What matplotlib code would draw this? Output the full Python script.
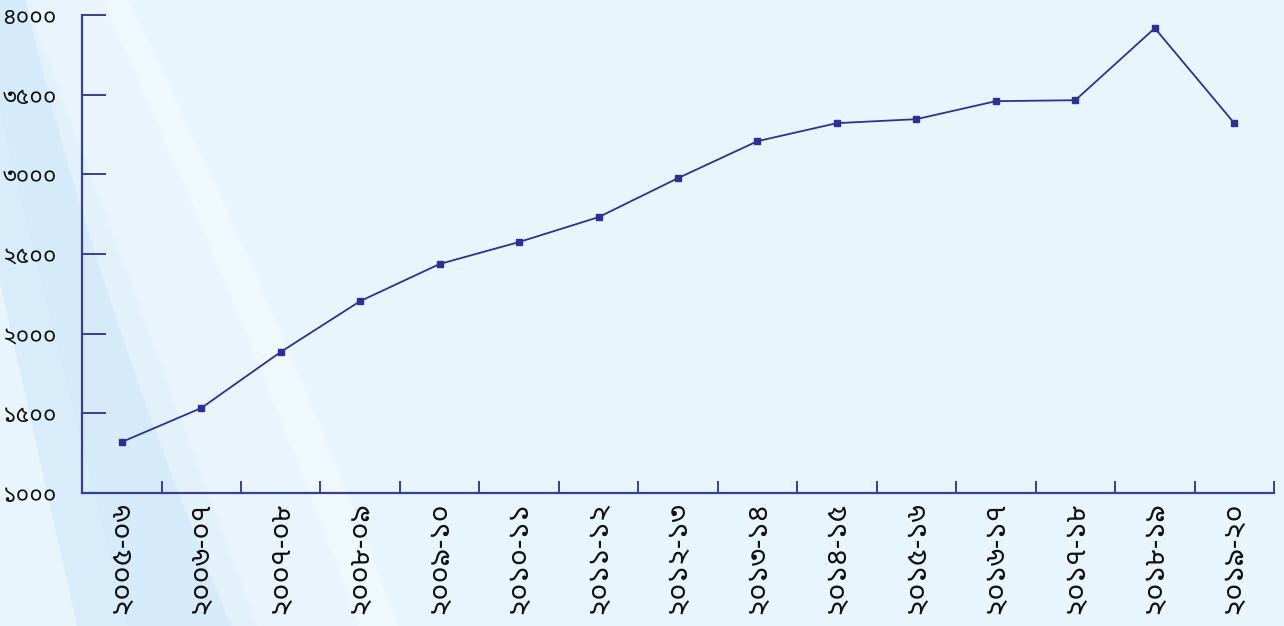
import matplotlib
matplotlib.use('Agg')
import matplotlib.pyplot as plt
from matplotlib.path import Path
from matplotlib.patches import PathPatch
from matplotlib.ticker import FixedLocator

plt.rcParams['font.family'] = ['Noto Sans Bengali', 'DejaVu Sans']

# ── Data ──────────────────────────────────────────────────────────────
years = ['২০০৫-০৬', '২০০৬-০৭', '২০০৭-০৮', '২০০৮-০৯', '২০০৯-১০',
         '২০১০-১১', '২০১১-১২', '২০১২-১৩', '২০১৩-১৪', '২০১৪-১৫',
         '২০১৫-১৬', '২০১৬-১৭', '২০১৭-১৮', '২০১৮-১৯', '২০১৯-২০']
values = [1320, 1533, 1885, 2204, 2437, 2575, 2731, 2976, 3208, 3321,
          3346, 3459, 3465, 3917, 3321]
y_ticks = [1000, 1500, 2000, 2500, 3000, 3500, 4000]
y_labels = ['১০০০', '১৫০০', '২০০০', '২৫০০', '৩০০০', '৩৫০০', '৪০০০']

NAVY = '#2E3192'
BG = '#E9F5FD'

fig = plt.figure(figsize=(12.84, 6.26), dpi=100, facecolor=BG)

# soft light swooshes on the left side (figure coords)
def band(x0, x1, x2, x3, color, alpha):
    verts = [(x0, 1.0), (x0 + 0.05, 0.55), (x1, 0.0),
             (x2, 0.0), (x2 - 0.08, 0.45), (x3, 1.0), (x0, 1.0)]
    codes = [Path.MOVETO, Path.CURVE3, Path.CURVE3,
             Path.LINETO, Path.CURVE3, Path.CURVE3, Path.CLOSEPOLY]
    fig.add_artist(PathPatch(Path(verts, codes), transform=fig.transFigure,
                             facecolor=color, edgecolor='none', alpha=alpha, zorder=0))

band(-0.05, 0.06, 0.20, 0.02, '#C6E3F6', 0.45)
band(-0.02, 0.10, 0.28, 0.08, '#D3EAF9', 0.40)
band(0.02, 0.18, 0.31, 0.10, '#FFFFFF', 0.30)

ax = fig.add_axes([0.0639, 0.2125, 0.9283, 0.7636])
ax.patch.set_alpha(0)

x = list(range(len(years)))
ax.plot(x, values, color=NAVY, linewidth=1.3, marker='s', markersize=4.5,
        markerfacecolor=NAVY, markeredgecolor=NAVY, zorder=3)

ax.set_xlim(-0.5, len(years) - 0.5)
ax.set_ylim(1000, 4000)

ax.spines['top'].set_visible(False)
ax.spines['right'].set_visible(False)
for s in ('left', 'bottom'):
    ax.spines[s].set_color('#3B3F92')
    ax.spines[s].set_linewidth(1.6)

ax.set_yticks(y_ticks)
ax.set_yticklabels(y_labels, fontsize=16.5, color='#111111')
ax.tick_params(axis='y', direction='in', length=17, width=1.4,
               color='#3B3F92', pad=18)

ax.set_xticks(x)
ax.set_xticklabels(years, rotation=90, fontsize=21, color='#111111')
ax.tick_params(axis='x', which='major', length=0, pad=6)
ax.xaxis.set_minor_locator(FixedLocator([i + 0.5 for i in x]))
ax.tick_params(axis='x', which='minor', direction='in', length=9,
               width=1.4, color='#3B3F92')

fig.savefig('out.png', facecolor=BG)
